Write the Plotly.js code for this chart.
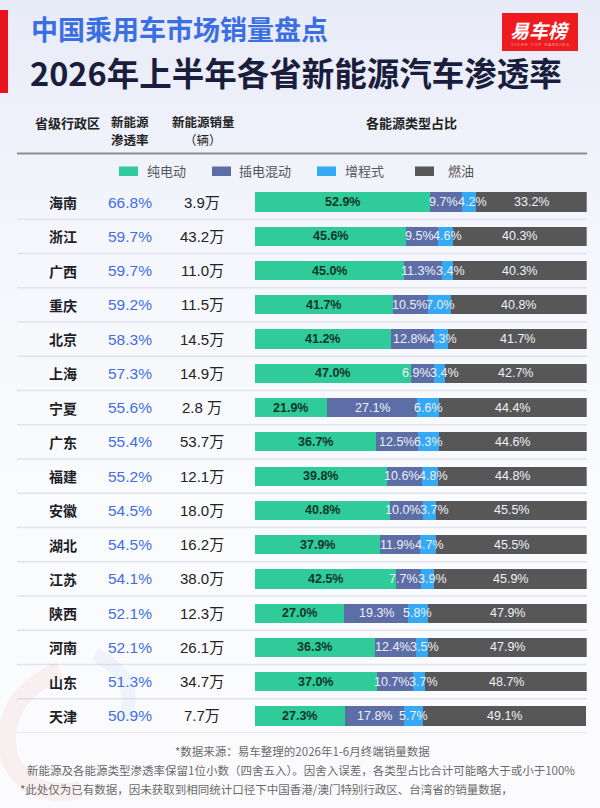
<!DOCTYPE html>
<html><head><meta charset="utf-8">
<script src="https://cdn.plot.ly/plotly-3.0.1.min.js"></script>
<style>
html,body{margin:0;padding:0;}
body{width:600px;height:808px;background:linear-gradient(180deg,#e8ebf8 0px,#eef1fa 120px,#f6f7fc 260px,#fafbfd 500px,#fbfbfd 808px);overflow:hidden;}
#chart{width:600px;height:808px;}
</style>
</head><body><div id="chart"></div>
<script>
// ---- data ----
const provinces = ['海南','浙江','广西','重庆','北京','上海','宁夏','广东','福建','安徽','湖北','江苏','陕西','河南','山东','天津'];
const nevRate = ['66.8%','59.7%','59.7%','59.2%','58.3%','57.3%','55.6%','55.4%','55.2%','54.5%','54.5%','54.1%','52.1%','52.1%','51.3%','50.9%'];
const nevSales = ['3.9万','43.2万','11.0万','11.5万','14.5万','14.9万','2.8 万','53.7万','12.1万','18.0万','16.2万','38.0万','12.3万','26.1万','34.7万','7.7万'];
const seriesNames = ['纯电动','插电混动','增程式','燃油'];
const bev  = [52.9,45.6,45.0,41.7,41.2,47.0,21.9,36.7,39.8,40.8,37.9,42.5,27.0,36.3,37.0,27.3];
const phev = [9.7,9.5,11.3,10.5,12.8,6.9,27.1,12.5,10.6,10.0,11.9,7.7,19.3,12.4,10.7,17.8];
const erev = [4.2,4.6,3.4,7.0,4.3,3.4,6.6,6.3,4.8,3.7,4.7,3.9,5.8,3.5,3.7,5.7];
const ice  = [33.2,40.3,40.3,40.8,41.7,42.7,44.4,44.6,44.8,45.5,45.5,45.9,47.9,47.9,48.7,49.1];
const headers = ['省级行政区','新能源','渗透率','新能源销量','（辆）','各能源类型占比'];
const titleTop = '中国乘用车市场销量盘点';
const titleMain = '2026年上半年各省新能源汽车渗透率';
const footnotes = ['*数据来源：易车整理的2026年1-6月终端销量数据',
  '新能源及各能源类型渗透率保留1位小数（四舍五入）。因舍入误差，各类型占比合计可能略大于或小于100%',
  '*此处仅为已有数据，因未获取到相同统计口径下中国香港/澳门特别行政区、台湾省的销量数据，'];

// ---- styles ----
const W = 600, H = 808;
const px = x => x / W;
const py = y => 1 - y / H;
const colors = ['#2fcb99','#5d6ea6','#35a9f4','#575757'];
const textColors = ['#12352b','#eef0f8','#eef0f8','#eef0f8'];
const textWeights = ['bold','normal','normal','normal'];
const LAT = 'Liberation Sans, Arial, Noto Sans CJK SC, sans-serif';
const CJK = 'Noto Sans CJK SC, sans-serif';
const LABEL_SIZE = 12.5;
const PLOT_X0 = 254.5, PLOT_X1 = 586.7;
const unitPx = (PLOT_X1 - PLOT_X0) / 100;

const series = [bev, phev, erev, ice];
const traces = series.map((vals, i) => ({
  type: 'bar', orientation: 'h',
  name: seriesNames[i],
  x: vals, y: provinces,
  marker: {color: colors[i], line: {width: 0}},
  width: 0.56,
  hoverinfo: 'skip'
}));

const annotations = [];
const shapes = [];

// estimated text width (px) of a label, used only to nudge crowded labels apart
function labelWidth(s, bold) {
  let w = 0;
  for (const c of s) w += (c === '.') ? 0.278 : (c === '%') ? 0.889 : 0.556;
  return w * LABEL_SIZE * (bold ? 1.03 : 1);
}

// segment labels (drawn above all bars, centred in each segment, nudged apart when crowded)
provinces.forEach((p, r) => {
  let cum = 0;
  const labs = series.map((vals, i) => {
    const v = vals[r];
    const t = v.toFixed(1) + '%';
    const o = {c: (cum + v / 2) * unitPx, w: labelWidth(t, i === 0), t: t, i: i};
    cum += v;
    return o;
  });
  for (let it = 0; it < 6; it++) {
    for (let k = 0; k < labs.length - 1; k++) {
      const a = labs[k], b = labs[k + 1];
      const overlap = (a.c + a.w / 2) - (b.c - b.w / 2);
      if (overlap > 0) { a.c -= overlap / 2; b.c += overlap / 2; }
    }
  }
  labs.forEach(o => {
    annotations.push({xref:'x', yref:'y', x: o.c / unitPx, y: p, xanchor:'center', yanchor:'middle', showarrow:false,
      text: o.t, font:{family: LAT, size: LABEL_SIZE, color: textColors[o.i], weight: textWeights[o.i]}});
  });
});

// titles
annotations.push({xref:'paper', yref:'paper', x: px(29), y: py(28), xanchor:'left', yanchor:'middle', showarrow:false,
  text: titleTop, font:{family: CJK, size: 27, color:'#3a6ee3', weight: 'bold'}});
annotations.push({xref:'paper', yref:'paper', x: px(28), y: py(72), xanchor:'left', yanchor:'middle', showarrow:false,
  text: titleMain, font:{family: CJK, size: 32.5, color:'#1a1e3c', weight: 'bold'}});
shapes.push({type:'rect', xref:'paper', yref:'paper', x0: px(0), x1: px(8), y0: py(93), y1: py(10), fillcolor:'#e8141c', line:{width:0}});
// logo
shapes.push({type:'rect', xref:'paper', yref:'paper', x0: px(502), x1: px(578), y0: py(51), y1: py(13), fillcolor:'#ee1c1f', line:{width:0}});
annotations.push({xref:'paper', yref:'paper', x: px(540), y: py(29), xanchor:'center', yanchor:'middle', showarrow:false,
  text: '易车榜', font:{family: CJK, size: 19, color:'#ffffff', weight:'bold', style:'italic'}});
annotations.push({xref:'paper', yref:'paper', x: px(540), y: py(44), xanchor:'center', yanchor:'middle', showarrow:false,
  text: 'Y I C H E   T O P   R A N K I N G', font:{family: LAT, size: 4, color:'#f7b4b4'}});

// header
const hf = {family: CJK, size: 13, color:'#222222', weight:'bold'};
const hf2 = {family: CJK, size: 12.5, color:'#222222', weight:'bold'};
annotations.push({xref:'paper', yref:'paper', x: px(67), y: py(122.5), xanchor:'center', yanchor:'middle', showarrow:false, text: headers[0], font: hf});
annotations.push({xref:'paper', yref:'paper', x: px(110), y: py(121), xanchor:'left', yanchor:'middle', showarrow:false, text: headers[1], font: hf2, borderpad:0});
annotations.push({xref:'paper', yref:'paper', x: px(110), y: py(139.5), xanchor:'left', yanchor:'middle', showarrow:false, text: headers[2], font: hf2, borderpad:0});
annotations.push({xref:'paper', yref:'paper', x: px(203), y: py(121), xanchor:'center', yanchor:'middle', showarrow:false, text: headers[3], font: hf2, borderpad:0});
annotations.push({xref:'paper', yref:'paper', x: px(203), y: py(139.5), xanchor:'center', yanchor:'middle', showarrow:false, text: headers[4], font: {family: CJK, size: 12.5, color:'#222222'}, borderpad:0});
annotations.push({xref:'paper', yref:'paper', x: px(411), y: py(122.5), xanchor:'center', yanchor:'middle', showarrow:false, text: headers[5], font: hf});
shapes.push({type:'line', xref:'paper', yref:'paper', x0: px(17), x1: px(587), y0: py(153.5), y1: py(153.5), line:{color:'#8c8c8c', width:2}});

// legend (manual)
const legSym = [119, 212, 317, 415];
const legTxt = [145, 237, 343, 446];
seriesNames.forEach((n, i) => {
  shapes.push({type:'rect', xref:'paper', yref:'paper', x0: px(legSym[i]), x1: px(legSym[i] + 19), y0: py(176), y1: py(166.5), fillcolor: colors[i], line:{width:0}});
  annotations.push({xref:'paper', yref:'paper', x: px(legTxt[i]), y: py(171), xanchor:'left', yanchor:'middle', showarrow:false,
    text: n, font:{family: CJK, size: 13, color:'#555555'}});
});

// table columns
provinces.forEach((p, i) => {
  annotations.push({xref:'paper', yref:'y', x: px(63), y: p, xanchor:'center', yanchor:'middle', showarrow:false,
    text: p, font:{family: CJK, size: 14, color:'#1e1e28', weight:'bold'}});
  annotations.push({xref:'paper', yref:'y', x: px(130), y: p, xanchor:'center', yanchor:'middle', showarrow:false,
    text: nevRate[i], font:{family: LAT, size: 15.5, color:'#3f6fe2'}});
  annotations.push({xref:'paper', yref:'y', x: px(202), y: p, xanchor:'center', yanchor:'middle', showarrow:false,
    text: nevSales[i], font:{family: LAT, size: 15, color:'#222222'}});
  shapes.push({type:'line', xref:'paper', yref:'y', x0: px(17), x1: px(587), y0: i + 0.5, y1: i + 0.5, line:{color:'#e1e3ea', width:1.5}, layer:'below'});
});

// footnotes
const ff = {family: CJK, size: 11.5, color:'#6a6a6a'};
annotations.push({xref:'paper', yref:'paper', x: px(302), y: py(751), xanchor:'center', yanchor:'middle', showarrow:false, text: footnotes[0], font: ff});
annotations.push({xref:'paper', yref:'paper', x: px(301), y: py(770), xanchor:'center', yanchor:'middle', showarrow:false, text: footnotes[1], font: ff});
annotations.push({xref:'paper', yref:'paper', x: px(18), y: py(789), xanchor:'left', yanchor:'middle', showarrow:false, text: footnotes[2], font: ff});

// faint watermark swirl
shapes.push({type:'path', xref:'paper', yref:'paper', layer:'below',
  path: `M ${px(60)} ${py(670)} Q ${px(-5)} ${py(700)} ${px(10)} ${py(760)} Q ${px(30)} ${py(800)} ${px(80)} ${py(790)}`,
  line:{color:'rgba(230,90,90,0.07)', width:18}});
shapes.push({type:'path', xref:'paper', yref:'paper', layer:'below',
  path: `M ${px(95)} ${py(655)} Q ${px(140)} ${py(675)} ${px(125)} ${py(720)}`,
  line:{color:'rgba(90,140,230,0.07)', width:14}});

const layout = {
  width: W, height: H,
  margin: {l:0, r:0, t:0, b:0, pad:0},
  paper_bgcolor: 'rgba(0,0,0,0)', plot_bgcolor: 'rgba(0,0,0,0)',
  barmode: 'stack', showlegend: false,
  xaxis: {domain: [px(PLOT_X0), px(PLOT_X1)], range: [0, 100], visible: false, fixedrange: true},
  yaxis: {domain: [py(733.1), py(184.9)], type: 'category', categoryorder: 'array', categoryarray: provinces,
          range: [provinces.length - 0.5, -0.5], visible: false, fixedrange: true},
  annotations: annotations, shapes: shapes,
  font: {family: CJK}
};
Plotly.newPlot('chart', traces, layout, {displayModeBar: false, staticPlot: true});
</script>
</body></html>
